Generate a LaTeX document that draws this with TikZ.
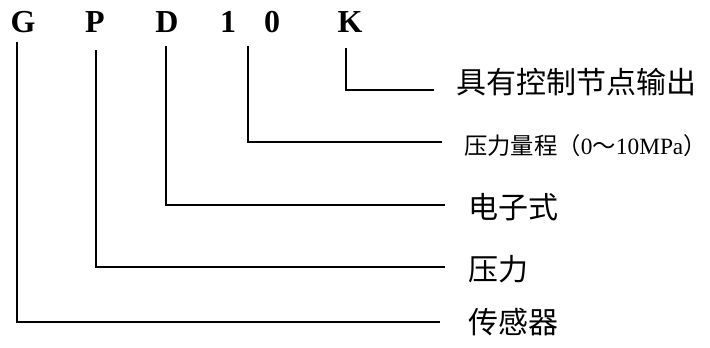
\documentclass[tikz,border=0pt]{standalone}
\usepackage{fontspec}
\setmainfont{Liberation Serif}
\newfontfamily\cjk{Noto Sans CJK SC}
\begin{document}
\begin{tikzpicture}[x=0.75pt,y=-0.75pt,
  code/.style={font=\fontsize{24}{24}\selectfont\bfseries, inner sep=0pt, anchor=base},
  lbl/.style={font=\cjk\fontsize{22.5}{22.5}\selectfont, anchor=west, inner sep=0pt},
  slbl/.style={font=\fontsize{17.5}{17.5}\selectfont, anchor=west, inner sep=0pt},
  conn/.style={line width=1.1pt},
  thick conn/.style={line width=2.2pt}]
\useasboundingbox (0,0) rectangle (710,348);
% code letters
\node[code] (G) at (23,33) {G};
\node[code] (P) at (95,33) {P};
\node[code] (D) at (167,33) {D};
\node[code] (one) at (228,33) {1};
\node[code] (zero) at (272,33) {0};
\node[code] (K) at (350,33) {K};
% labels
\node[lbl] (tK) at (456,82) {具有控制节点输出};
\node[slbl] (t10) at (464,146) {{\cjk 压力量程（}0{\cjk ～}10MPa{\cjk ）}};
\node[lbl] (tD) at (468,207) {电子式};
\node[lbl] (tP) at (468,269) {压力};
\node[lbl] (tG) at (468,322) {传感器};
% line starts and ends
\coordinate (gs) at (17,42);  \coordinate (ge) at (440,322);
\coordinate (ps) at (96,50);  \coordinate (pe) at (445,267);
\coordinate (ds) at (166,46); \coordinate (de) at (445,205);
\coordinate (ns) at (248,46); \coordinate (ne) at (442,142);
\coordinate (ks) at (346,48); \coordinate (ke) at (434,90);
\draw[conn] (gs) |- (ge);
\draw[conn] (ps) |- (pe);
\draw[conn] (ds) |- (de);
\draw[conn] (ns) |- (ne);
\draw[thick conn] (ks) |- (ke);
\end{tikzpicture}
\end{document}
